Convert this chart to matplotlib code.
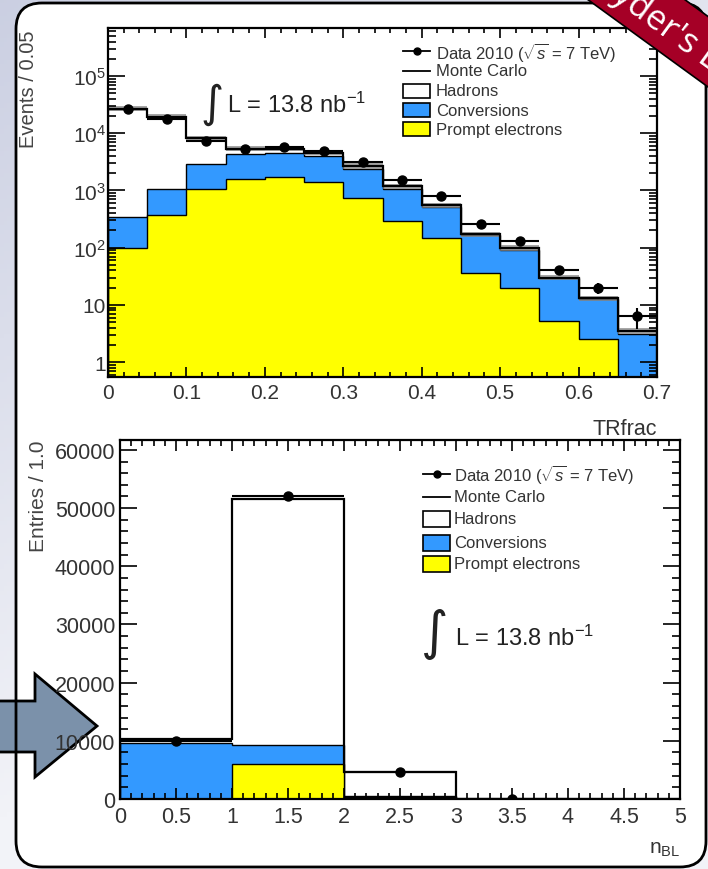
import numpy as np
import matplotlib
matplotlib.use("Agg")
import matplotlib.pyplot as plt
from matplotlib.patches import FancyBboxPatch, Polygon, Rectangle
from matplotlib.ticker import MultipleLocator, FixedLocator, FixedFormatter, LogLocator, NullFormatter

plt.rcParams['font.family'] = ['Liberation Sans', 'DejaVu Sans']
plt.rcParams['mathtext.fontset'] = 'custom'
plt.rcParams['mathtext.rm'] = 'Liberation Sans'
plt.rcParams['mathtext.it'] = 'Liberation Sans:italic'
plt.rcParams['mathtext.bf'] = 'Liberation Sans:bold'

# TRfrac distribution, bins of 0.05
trfrac_edges = np.linspace(0.0, 0.7, 15)
trfrac_data = np.array([26000, 18000, 7200, 5200, 5650, 4800, 3100, 1500, 790, 255, 130, 40, 20, 6.3])
trfrac_hadrons = np.array([26660, 17950, 5220, 1130, 800, 650, 310, 130, 45, 5, 8, 1, 0.4, 0.4])
trfrac_conversions = np.array([240, 670, 1830, 2710, 2900, 2570, 1610, 760, 359, 129, 70, 23.8, 10.1, 3.1])
trfrac_prompt = np.array([100, 380, 1050, 1560, 1700, 1380, 730, 290, 146, 36, 20, 5.2, 2.5, 0])

# number of b-layer hits, bins of 1
nbl_edges = np.array([0, 1, 2, 3, 4, 5])
nbl_data = np.array([9900, 52000, 4700, 40, 0])
nbl_hadrons = np.array([550, 42290, 4100, 0, 0])
nbl_conversions = np.array([9700, 3280, 150, 0, 0])
nbl_prompt = np.array([0, 6000, 350, 0, 0])

top_yticks = [1, 10, 100, 1000, 10000, 100000]
top_ylabels = ['1', '10', r'$\mathregular{10^{2}}$', r'$\mathregular{10^{3}}$',
               r'$\mathregular{10^{4}}$', r'$\mathregular{10^{5}}$']

BLUE = '#3399ff'
YELLOW = '#ffff00'
TXT = '#333333'
W, H = 708, 870

fig = plt.figure(figsize=(W / 100, H / 100), dpi=100)


def frame(left, top, right, bottom):
    return [left / W, 1 - bottom / H, (right - left) / W, (bottom - top) / H]


# slide background and white panel
bg = fig.add_axes([0, 0, 1, 1], zorder=-10)
gx, gy = np.meshgrid(np.linspace(0, 1, 200), np.linspace(0, 1, 200))
g = np.clip(0.5 * gx + 0.9 * gy + 0.15, 0, 1)
c0 = np.array([196, 201, 222]) / 255
c1 = np.array([242, 243, 248]) / 255
bg.imshow(c0 + (c1 - c0) * g[..., None], extent=[0, W, H, 0], aspect='auto')
bg.set_xlim(0, W)
bg.set_ylim(H, 0)
bg.axis('off')
bg.add_patch(FancyBboxPatch((16, 4), 690, 864, boxstyle='round,pad=0,rounding_size=26',
                            facecolor='white', edgecolor='none', zorder=1))
arrow = [(-5, 702), (35, 702), (35, 675), (97, 727), (35, 778), (35, 753), (-5, 753)]
bg.add_patch(Polygon(arrow, closed=True, facecolor='#7b91aa', edgecolor='black', lw=2, zorder=2))
bg.add_patch(FancyBboxPatch((16, 4), 690, 864, boxstyle='round,pad=0,rounding_size=26',
                            facecolor='none', edgecolor='black', lw=2, zorder=3))


def style_axes(ax, xlen, ylen, fs, xpad, ypad):
    ax.tick_params(which='both', direction='in', top=True, right=True,
                   labelsize=fs, labelcolor=TXT, color='black', width=1.2)
    ax.tick_params(axis='x', which='major', length=xlen, pad=xpad)
    ax.tick_params(axis='x', which='minor', length=xlen / 2)
    ax.tick_params(axis='y', which='major', length=ylen, pad=ypad)
    ax.tick_params(axis='y', which='minor', length=ylen / 2)
    for s in ax.spines.values():
        s.set_linewidth(1.6)


def draw_stack(ax, edges, data, had, conv, prompt, floor, band, mc_lw):
    total = had + conv + prompt
    mid = conv + prompt
    ax.stairs(np.maximum(total, floor), edges, baseline=floor, fill=True,
              facecolor='white', edgecolor='black', lw=1.2)
    ax.stairs(np.maximum(mid, floor), edges, baseline=floor, fill=True,
              facecolor=BLUE, edgecolor='black', lw=1.0)
    ax.stairs(np.maximum(prompt, floor), edges, baseline=floor, fill=True,
              facecolor=YELLOW, edgecolor='black', lw=1.0)
    if band:
        ax.stairs(total * 1.12, edges, baseline=total / 1.12, fill=True,
                  color='#8a8a8a', alpha=0.75, lw=0)
    ax.stairs(total, edges, color='black', lw=mc_lw)
    centers = 0.5 * (edges[1:] + edges[:-1])
    half = 0.5 * np.diff(edges)
    keep = data > 0
    ax.errorbar(centers[keep], data[keep], xerr=half[keep], yerr=np.sqrt(data[keep]),
                fmt='o', color='black', ms=6.5, elinewidth=1.5, capsize=0, zorder=5)


# upper pad: TRfrac, log scale
ax1 = fig.add_axes(frame(108, 29, 657, 378))
draw_stack(ax1, trfrac_edges, trfrac_data, trfrac_hadrons, trfrac_conversions,
           trfrac_prompt, 0.1, True, 1.6)
ax1.set_yscale('log')
ax1.set_xlim(0, 0.7)
ax1.set_ylim(0.55, 6.9e5)
ax1.xaxis.set_major_locator(FixedLocator(np.linspace(0, 0.7, 8)))
ax1.xaxis.set_major_formatter(FixedFormatter(['0', '0.1', '0.2', '0.3', '0.4', '0.5', '0.6', '0.7']))
ax1.xaxis.set_minor_locator(MultipleLocator(0.02))
ax1.yaxis.set_major_locator(FixedLocator(top_yticks))
ax1.yaxis.set_major_formatter(FixedFormatter(top_ylabels))
ax1.yaxis.set_minor_locator(LogLocator(base=10, subs=np.arange(2, 10)))
ax1.yaxis.set_minor_formatter(NullFormatter())
style_axes(ax1, 7, 12, 15, 4, 1.5)

# lower pad: n_BL, linear scale
ax2 = fig.add_axes(frame(120, 441, 680, 800))
draw_stack(ax2, nbl_edges, nbl_data, nbl_hadrons, nbl_conversions, nbl_prompt, 0, False, 1.6)
ax2.set_xlim(0, 5)
ax2.set_ylim(0, 61700)
ax2.xaxis.set_major_locator(FixedLocator(np.arange(0, 5.01, 0.5)))
ax2.xaxis.set_major_formatter(FixedFormatter(['0', '0.5', '1', '1.5', '2', '2.5', '3', '3.5', '4', '4.5', '5']))
ax2.xaxis.set_minor_locator(MultipleLocator(0.1))
ax2.yaxis.set_major_locator(FixedLocator(np.arange(0, 60001, 10000)))
ax2.yaxis.set_major_formatter(FixedFormatter(['0', '10000', '20000', '30000', '40000', '50000', '60000']))
ax2.yaxis.set_minor_locator(MultipleLocator(2000))
style_axes(ax2, 8, 12, 15.5, 5, 3.5)

# overlay in pixel coordinates for labels, legends and the corner ribbon
ov = fig.add_axes([0, 0, 1, 1], zorder=10)
ov.set_xlim(0, W)
ov.set_ylim(H, 0)
ov.axis('off')
ov.patch.set_alpha(0)

ov.text(28, 30, 'Events / 0.05', rotation=90, ha='center', va='top', fontsize=14.5, color='#444444')
ov.text(38, 441, 'Entries / 1.0', rotation=90, ha='center', va='top', fontsize=15, color='#444444')
ov.text(657, 430, 'TRfrac', ha='right', va='center', fontsize=15.5, color=TXT)
ov.text(680, 850, r'n$_{\mathregular{BL}}$', ha='right', va='center', fontsize=15, color=TXT)

for ix, iy, lx, base, isz in [(212, 104, 227, 113, 32), (435, 634, 455, 646, 38)]:
    ov.text(ix, iy, '\u222b', ha='center', va='center', fontsize=isz,
            family='DejaVu Sans', color='#222222')
    ov.text(lx, base, r'L = 13.8 nb$^{\mathregular{-1}}$', ha='left', va='baseline',
            fontsize=17, color='#222222')

legend_rows = [r'Data 2010 ($\sqrt{s}$ = 7 TeV)', 'Monte Carlo', 'Hadrons', 'Conversions', 'Prompt electrons']
legend_faces = [None, None, 'white', BLUE, YELLOW]


def draw_legend(x0, xt, ys, bh, fs):
    for label, face, y in zip(legend_rows, legend_faces, ys):
        if face is None:
            ov.plot([x0, x0 + 27], [y, y], color='black', lw=1.3)
            if label.startswith('Data'):
                ov.plot([x0 + 13.5], [y], 'o', color='black', ms=5)
        else:
            ov.add_patch(Rectangle((x0, y - bh / 2), 27, bh, facecolor=face,
                                   edgecolor='black', lw=1.2))
        ov.text(xt, y, label, ha='left', va='center', fontsize=fs, color=TXT)


draw_legend(403, 436, [52, 72, 92, 111, 130], 14, 12)
draw_legend(423, 454, [475, 498, 520, 544, 565], 16, 12)

# red corner ribbon
d = np.array([0.809, 0.588])
n = np.array([0.588, -0.809])
p0 = np.array([587.0, 0.0])
ribbon = [p0 - 80 * d, p0 + 260 * d, p0 + 260 * d + 57 * n, p0 - 80 * d + 57 * n]
ov.add_patch(Polygon(ribbon, closed=True, facecolor='#a50026', edgecolor='black', lw=1.2, zorder=20))
tc = p0 + 80 * d + 24 * n
ov.text(tc[0], tc[1], "yder's L", rotation=-36, rotation_mode='anchor', ha='center', va='center',
        fontsize=25, color='white', family='Open Sans', zorder=21)

fig.savefig('out.png', dpi=100)
